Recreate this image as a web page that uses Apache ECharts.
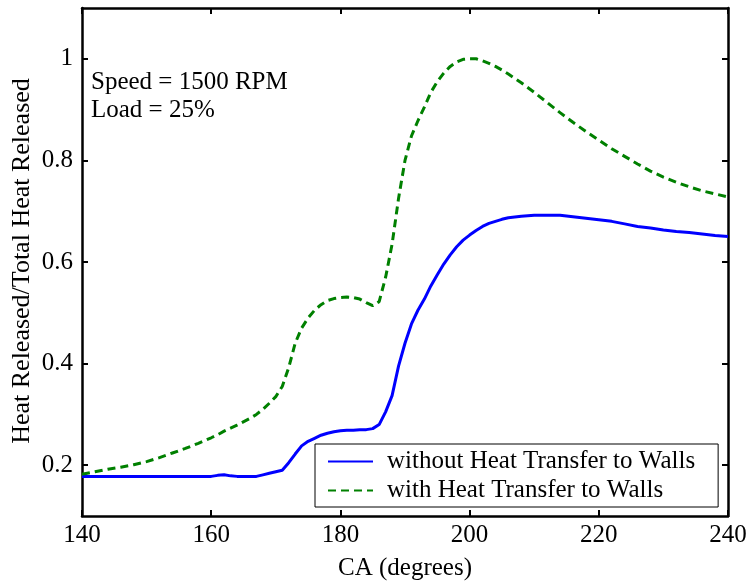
<!DOCTYPE html>
<html>
<head>
<meta charset="utf-8">
<script src="https://cdn.jsdelivr.net/npm/echarts@6/dist/echarts.min.js"></script>
<style>html,body{margin:0;padding:0;background:#fff}#c{width:752px;height:586px}</style>
</head>
<body>
<div id="c"></div>
<script>
const ca = [140,142,144,146,148,150,152,154,156,158,160,161,162,163,164,166,167,168,169,170,171,172,173,174,175,176,177,178,179,180,181,182,183,184,185,186,187,188,189,190,191,192,193,194,195,196,197,198,199,200,201,202,203,204,205,206,208,210,212,214,216,218,220,222,224,226,228,230,232,234,236,238,240];
const withoutHT = [0.178,0.178,0.178,0.178,0.178,0.178,0.178,0.178,0.178,0.178,0.178,0.180,0.181,0.179,0.178,0.178,0.178,0.181,0.184,0.187,0.190,0.205,0.222,0.238,0.247,0.253,0.259,0.263,0.266,0.268,0.269,0.269,0.270,0.270,0.272,0.280,0.305,0.337,0.395,0.440,0.478,0.505,0.527,0.553,0.575,0.596,0.614,0.630,0.643,0.653,0.662,0.670,0.676,0.680,0.684,0.687,0.690,0.692,0.692,0.692,0.689,0.686,0.683,0.680,0.675,0.670,0.667,0.663,0.660,0.658,0.655,0.652,0.650];
const withHT = [0.182,0.187,0.192,0.196,0.201,0.207,0.215,0.224,0.233,0.243,0.254,0.260,0.267,0.273,0.279,0.292,0.300,0.310,0.322,0.335,0.355,0.392,0.440,0.470,0.490,0.505,0.516,0.524,0.528,0.530,0.531,0.530,0.527,0.520,0.514,0.522,0.570,0.635,0.725,0.800,0.848,0.878,0.905,0.934,0.955,0.972,0.985,0.994,0.999,1.000,1.000,0.996,0.991,0.985,0.978,0.970,0.953,0.934,0.914,0.894,0.875,0.857,0.840,0.823,0.808,0.793,0.779,0.767,0.757,0.748,0.740,0.734,0.728];
const xTicks = [140,160,180,200,220,240];
const yTicks = [0.2,0.4,0.6,0.8,1];
const seriesNames = ['without Heat Transfer to Walls','with Heat Transfer to Walls'];
const xTitle = 'CA (degrees)';
const yTitle = 'Heat Released/Total Heat Released';
const annotation = ['Speed = 1500 RPM','Load = 25%'];

const FONT = '"Liberation Serif","Times New Roman",serif';
const chart = echarts.init(document.getElementById('c'), null, {renderer:'canvas'});
const frame = {show:true, lineStyle:{color:'#000', width:2.5}};
const tickIn = {show:true, inside:true, length:6, lineStyle:{color:'#000', width:2}};
chart.setOption({
  animation:false,
  backgroundColor:'#fff',
  grid:{left:82, right:24, top:8, bottom:68, containLabel:false},
  xAxis:[
    {type:'value', min:140, max:240, interval:20, axisLine:frame, axisTick:tickIn, splitLine:{show:false},
     axisLabel:{color:'#000', fontFamily:FONT, fontSize:25, margin:7},
     name:xTitle, nameLocation:'middle', nameGap:40, nameTextStyle:{color:'#000', fontFamily:FONT, fontSize:25}},
    {type:'value', position:'top', min:140, max:240, interval:20, axisLine:frame, axisTick:tickIn, axisLabel:{show:false}, splitLine:{show:false}}
  ],
  yAxis:[
    {type:'value', min:0.1, max:1.1, axisLine:frame,
     axisTick:Object.assign({}, tickIn, {customValues:yTicks}),
     axisLabel:{color:'#000', fontFamily:FONT, fontSize:25, margin:9, customValues:yTicks, formatter:v=>String(+v.toFixed(1))},
     splitLine:{show:false}},
    {type:'value', position:'right', min:0.1, max:1.1, axisLine:frame,
     axisTick:Object.assign({}, tickIn, {customValues:yTicks}), axisLabel:{show:false}, splitLine:{show:false}}
  ],
  legend:{
    orient:'vertical', left:315, top:444,
    padding:[5,23,4,12], itemGap:4, itemWidth:45, itemHeight:14,
    borderColor:'#000', borderWidth:1, backgroundColor:'#fff',
    itemStyle:{opacity:0, color:'rgba(0,0,0,0)', borderWidth:0},
    textStyle:{color:'#000', fontFamily:FONT, fontSize:25, padding:[0,0,0,9]},
    data:seriesNames
  },
  graphic:[
    {type:'text', left:91, top:68, style:{text:annotation.join('\n'), font:'25px '+FONT, fill:'#000', lineHeight:28}},
    {type:'text', x:22, y:261, rotation:Math.PI/2, style:{text:yTitle, font:'26px '+FONT, fill:'#000', align:'center', verticalAlign:'middle'}}
  ],
  series:[
    {name:seriesNames[0], type:'line', xAxisIndex:0, yAxisIndex:0, symbol:'none', smooth:false,
     lineStyle:{color:'#0000ff', width:3}, itemStyle:{color:'#0000ff'},
     data:ca.map((x,i)=>[x, withoutHT[i]])},
    {name:seriesNames[1], type:'line', xAxisIndex:0, yAxisIndex:0, symbol:'none', smooth:false,
     lineStyle:{color:'#008000', width:3, type:[8,5]}, itemStyle:{color:'#008000'},
     data:ca.map((x,i)=>[x, withHT[i]])}
  ]
});
</script>
</body>
</html>
